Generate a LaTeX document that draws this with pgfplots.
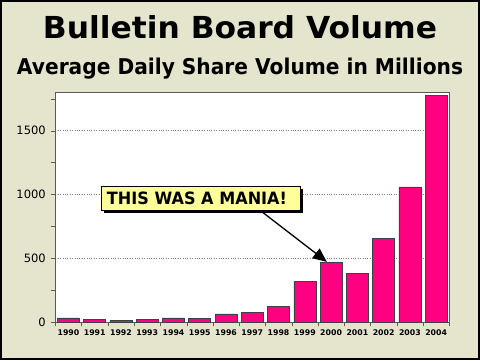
\documentclass[border=0pt]{standalone}
\usepackage{pgfplots}
\pgfplotsset{compat=1.18}
\usepackage{fontspec}
\setmainfont{DejaVu Sans}
\usetikzlibrary{arrows.meta}
\definecolor{bgbeige}{RGB}{229,228,205}
\definecolor{barpink}{RGB}{255,0,128}
\definecolor{noteyellow}{RGB}{255,255,153}
\begin{document}
\begin{tikzpicture}[x=1pt,y=1pt]
\fill[bgbeige] (0,0) rectangle (480,360);
\draw[black, line width=2pt] (1,1) rectangle (479,359);
\node[anchor=base, inner sep=0pt] at (240,321.7) {\resizebox{394pt}{23pt}{\bfseries Bulletin Board Volume}};
\node[anchor=base, inner sep=0pt] at (240,285.5) {\resizebox{446pt}{16.5pt}{\bfseries Average Daily Share Volume in Millions}};
\begin{axis}[
  at={(55.3pt,37.7pt)}, anchor=south west,
  scale only axis, width=394pt, height=230pt,
  axis background/.style={fill=white},
  xmin=-0.5, xmax=14.5, ymin=0, ymax=1800,
  xtick={0,...,14},
  xticklabels={1990,1991,1992,1993,1994,1995,1996,1997,1998,1999,2000,2001,2002,2003,2004},
  minor xtick={-0.5,0.5,...,14.5},
  ytick={0,500,1000,1500},
  minor ytick={250,750,1250,1750},
  tick align=outside,
  xtick pos=bottom, ytick pos=left,
  major x tick style={draw=none},
  minor x tick style={gray!70!black},
  minor tick length=4pt,
  major tick length=4pt,
  tick style={gray!70!black},
  axis line style={gray!70!black},
  ymajorgrids,
  major grid style={gray, dotted},
  /pgf/number format/assume math mode=true,
  /pgf/number format/set thousands separator={},
  yticklabel style={font=\fontsize{11.5}{12}\selectfont, xshift=-2pt},
  xticklabel style={font=\fontsize{7.8}{8}\selectfont\bfseries, yshift=0pt},
]
\addplot[ybar, fill=barpink, draw=gray!50!black, line width=0.6pt, bar width=0.84] coordinates {
 (0,34) (1,23) (2,16) (3,20) (4,34) (5,28) (6,65) (7,78) (8,127) (9,323) (10,468) (11,383) (12,656) (13,1059) (14,1776)
};
\draw[black, line width=1.3pt, -{Triangle[length=14pt,width=12pt]}] (axis cs:7.29,877) -- (axis cs:9.84,473);
\end{axis}
\fill[black] (104,147) rectangle (303,171);
\draw[black, fill=noteyellow, line width=0.8pt] (101,150) rectangle (300,174);
\node[anchor=base, inner sep=0pt] at (197,155.7) {\resizebox{180pt}{12.6pt}{\bfseries THIS WAS A MANIA!}};
\end{tikzpicture}
\end{document}
